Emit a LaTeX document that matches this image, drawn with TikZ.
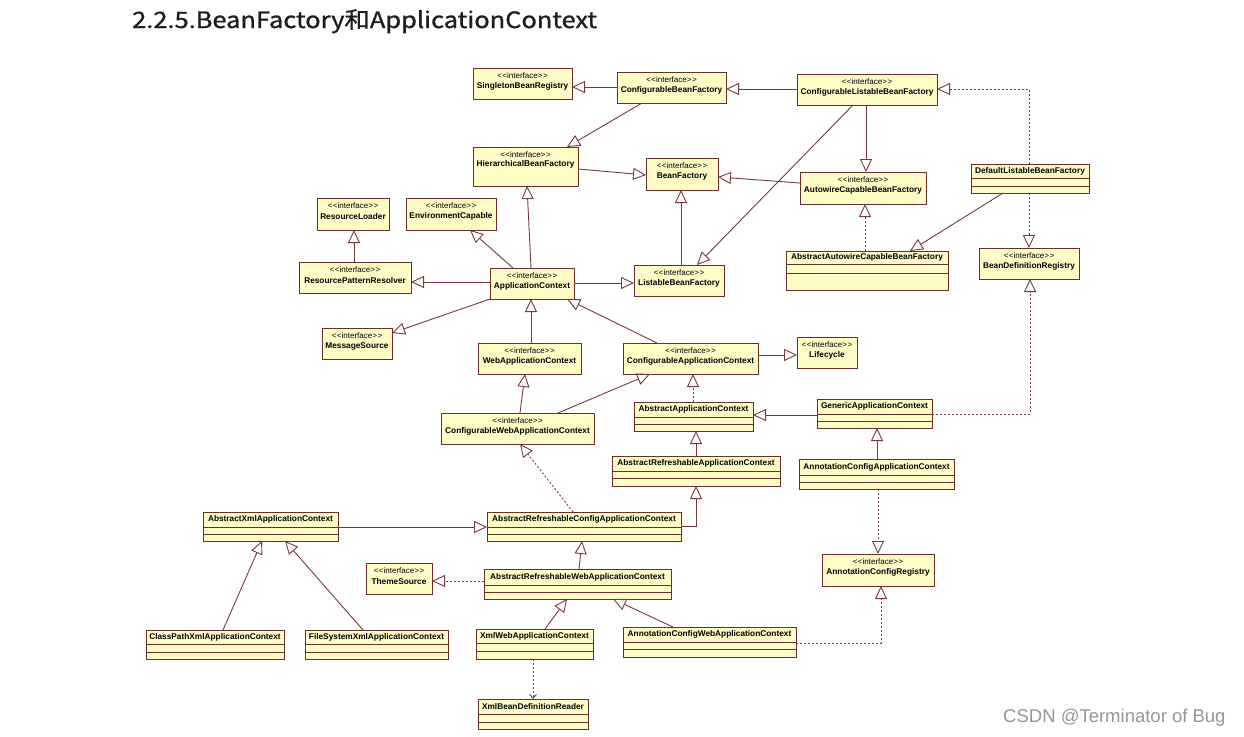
\documentclass[tikz,border=0pt]{standalone}
\usepackage{fontspec}
\setmainfont{Liberation Sans}
\newfontfamily\cjk{Noto Sans CJK SC}[FakeBold=1]
\usetikzlibrary{arrows.meta}
\definecolor{boxfill}{RGB}{255,252,198}
\definecolor{boxdraw}{RGB}{110,45,42}
\definecolor{linec}{RGB}{122,55,60}
\definecolor{titlec}{RGB}{30,30,30}
\definecolor{wmc}{RGB}{150,150,150}
\newcommand\stereotxt{<\kern0.5pt<interface>\kern0.5pt>}
\newcommand\ifacebox[6]{%
  \node[ifbox, minimum width={#4-#2}, minimum height={#5-#3}, anchor=north west] (#1) at (#2,#3) {};
  \node[stereo] (#1-s) at ([yshift=-8]#1.north) {\stereotxt};
  \node[iname] (#1-n) at ([yshift=-18.5]#1.north) {#6};
}
\newcommand\classbox[8]{%
  \node[clbox, minimum width={#4-#2}, minimum height={#5-#3}, anchor=north west] (#1) at (#2,#3) {};
  \draw[boxline] ([yshift=-#6]#1.north west) -- ([yshift=-#6]#1.north east);
  \draw[boxline] ([yshift=-#7]#1.north west) -- ([yshift=-#7]#1.north east);
  \node[iname] (#1-n) at ([yshift={-#6/2}]#1.north) {#8};
}
\tikzset{
  ifbox/.style={draw=boxdraw, fill=boxfill, line width=0.95pt, inner sep=0pt, outer sep=0pt},
  clbox/.style={draw=boxdraw, fill=boxfill, line width=0.95pt, inner sep=0pt, outer sep=0pt},
  boxline/.style={draw=boxdraw, line width=0.9pt},
  stereo/.style={inner sep=0pt, font=\fontsize{8}{9}\selectfont, text=black},
  iname/.style={inner sep=0pt, font=\fontsize{8.3}{9}\selectfont\bfseries, text=black},
  genarrow/.style={draw=linec, line width=0.9pt, -{Triangle[open, length=13pt, width=12pt, line width=0.9pt]}},
  implarrow/.style={genarrow, dash pattern=on 2pt off 2pt},
  deparrow/.style={draw=linec, line width=0.9pt, dash pattern=on 2pt off 2pt, -{Straight Barb[length=4pt, width=7pt]}},
}
\begin{document}
\begin{tikzpicture}[x=1pt, y=-1pt]
\useasboundingbox (0,0) rectangle (1244,736);
\fill[white] (0,0) rectangle (1244,736);
\node[anchor=base west, inner sep=0pt, text=titlec, font=\cjk\fontsize{22.5}{26}\selectfont] (title) at (132,28) {\scalebox{1.13}[1]{2.2.5.BeanFactory和ApplicationContext}};
\node[anchor=base west, inner sep=0pt, text=wmc, font=\fontsize{18.5}{22}\selectfont] (wm) at (1003,722) {CSDN @Terminator of Bug};

% interface boxes
\ifacebox{SBR}{473}{68}{572}{99}{SingletonBeanRegistry}
\ifacebox{CBF}{617}{72}{726}{103}{ConfigurableBeanFactory}
\ifacebox{CLBF}{797}{74}{937}{105}{ConfigurableListableBeanFactory}
\node[ifbox, minimum width=105, minimum height=39, anchor=north west] (HBF) at (473,147) {};
\node[stereo] (HBF-s) at ([yshift=-8]HBF.north) {\stereotxt};
\node[iname] (HBF-n) at ([yshift=-17.5]HBF.north) {HierarchicalBeanFactory};
\ifacebox{BF}{646}{158}{718}{190}{BeanFactory}
\ifacebox{ACBF}{800}{172}{926}{204}{AutowireCapableBeanFactory}
\ifacebox{RL}{317}{198}{389}{230}{ResourceLoader}
\ifacebox{EC}{406}{198}{496}{230}{EnvironmentCapable}
\ifacebox{RPR}{299}{262}{411}{293}{ResourcePatternResolver}
\ifacebox{AC}{490}{268}{574}{299}{ApplicationContext}
\ifacebox{LBF}{634}{265}{724}{296}{ListableBeanFactory}
\ifacebox{BDR}{979}{248}{1079}{279}{BeanDefinitionRegistry}
\ifacebox{MS}{322}{328}{392}{359}{MessageSource}
\ifacebox{WAC}{478}{343}{581}{374}{WebApplicationContext}
\ifacebox{CAC}{623}{343}{758}{374}{ConfigurableApplicationContext}
\ifacebox{LC}{797}{337}{857}{368}{Lifecycle}
\ifacebox{CWAC}{441}{413}{594}{444}{ConfigurableWebApplicationContext}
\ifacebox{ACR}{822}{554}{934}{586}{AnnotationConfigRegistry}
\ifacebox{TS}{366}{563}{432}{594}{ThemeSource}

% class boxes
\classbox{DLBF}{971}{164}{1089}{193}{14}{22}{DefaultListableBeanFactory}
\classbox{AACBF}{786}{251}{948}{290}{13.5}{22}{AbstractAutowireCapableBeanFactory}
\classbox{AAC}{634}{402}{753}{431}{15}{22}{AbstractApplicationContext}
\classbox{GAC}{817}{399}{932}{428}{15}{22}{GenericApplicationContext}
\classbox{ARAC}{612}{456}{780}{486}{15}{22}{AbstractRefreshableApplicationContext}
\classbox{ACAC}{799}{459}{954}{489}{16}{23}{AnnotationConfigApplicationContext}
\classbox{AXAC}{203}{512}{338}{541}{15}{22}{AbstractXmlApplicationContext}
\classbox{ARCAC}{487}{512}{681}{541}{15}{22}{AbstractRefreshableConfigApplicationContext}
\classbox{ARWAC}{484}{569}{671}{599}{16}{23}{AbstractRefreshableWebApplicationContext}
\classbox{CPXAC}{146}{630}{284}{659}{14}{22}{ClassPathXmlApplicationContext}
\classbox{FSXAC}{305}{630}{448}{659}{14}{22}{FileSystemXmlApplicationContext}
\classbox{XWAC}{476}{629}{593}{659}{14}{22}{XmlWebApplicationContext}
\classbox{ACWAC}{623}{627}{796}{657}{15}{22}{AnnotationConfigWebApplicationContext}
\classbox{XBDR}{478}{699}{588}{729}{15}{23}{XmlBeanDefinitionReader}

% connectors
\draw[genarrow] (CBF.west |- 0,87) -- (SBR.east |- 0,87);
\draw[genarrow] (CLBF.west |- 0,89) -- (CBF.east |- 0,89);
\draw[genarrow] (CBF.south -| 642,0) -- (HBF.north -| 567,0);
\draw[genarrow] (HBF.east |- 0,169) -- (BF.west |- 0,175);
\draw[genarrow] (ACBF.west |- 0,183) -- (BF.east |- 0,177);
\draw[genarrow] (CLBF.south -| 866,0) -- (ACBF.north -| 866,0);
\draw[genarrow] (CLBF.south -| 853,0) -- (LBF.north -| 697,0);
\draw[genarrow] (LBF.north -| 681,0) -- (BF.south -| 681,0);
\draw[implarrow] (AACBF.north -| 865,0) -- (ACBF.south -| 865,0);
\draw[genarrow] (DLBF.south -| 1003,0) -- (AACBF.north -| 910,0);
\draw[implarrow] (DLBF.north -| 1029,0) |- (CLBF.east |- 0,89);
\draw[implarrow] (DLBF.south -| 1029,0) -- (BDR.north -| 1029,0);
\draw[implarrow] (GAC.east |- 0,414) -| (BDR.south -| 1030,0);
\draw[genarrow] (RPR.north -| 354,0) -- (RL.south -| 354,0);
\draw[genarrow] (AC.west |- 0,282) -- (RPR.east |- 0,282);
\draw[genarrow] (AC.north -| 513,0) -- (EC.south -| 470,0);
\draw[genarrow] (AC.north -| 531,0) -- (HBF.south -| 527,0);
\draw[genarrow] (AC.east |- 0,283) -- (LBF.west |- 0,283);
\draw[genarrow] (AC.south west) -- (MS.east |- 0,333);
\draw[genarrow] (WAC.north -| 531,0) -- (AC.south -| 531,0);
\draw[genarrow] (CAC.north -| 657,0) -- (AC.south -| 567,0);
\draw[genarrow] (CAC.east |- 0,355) -- (LC.west |- 0,355);
\draw[genarrow] (CWAC.north -| 520,0) -- (WAC.south -| 525,0);
\draw[genarrow] (CWAC.north -| 558,0) -- (CAC.south -| 650,0);
\draw[implarrow] (AAC.north -| 693,0) -- (CAC.south -| 693,0);
\draw[genarrow] (GAC.west |- 0,415) -- (AAC.east |- 0,415);
\draw[genarrow] (ARAC.north -| 696,0) -- (AAC.south -| 696,0);
\draw[genarrow] (ACAC.north -| 877,0) -- (GAC.south -| 877,0);
\draw[implarrow] (ACAC.south -| 878,0) -- (ACR.north -| 878,0);
\draw[implarrow] (ACWAC.east |- 0,643) -| (ACR.south -| 881,0);
\draw[genarrow] (ARCAC.east |- 0,526) -| (ARAC.south -| 696,0);
\draw[implarrow] (ARCAC.north -| 573,0) -- (CWAC.south -| 520,0);
\draw[genarrow] (AXAC.east |- 0,527) -- (ARCAC.west |- 0,527);
\draw[genarrow] (ARWAC.north -| 579,0) -- (ARCAC.south -| 582,0);
\draw[implarrow] (ARWAC.west |- 0,581) -- (TS.east |- 0,581);
\draw[genarrow] (CPXAC.north -| 223,0) -- (AXAC.south -| 262,0);
\draw[genarrow] (FSXAC.north -| 363,0) -- (AXAC.south -| 285,0);
\draw[genarrow] (XWAC.north -| 545,0) -- (ARWAC.south -| 567,0);
\draw[genarrow] (ACWAC.north -| 673,0) -- (ARWAC.south -| 613,0);
\draw[deparrow] (XWAC.south -| 533,0) -- (XBDR.north -| 533,0);
\end{tikzpicture}
\end{document}
